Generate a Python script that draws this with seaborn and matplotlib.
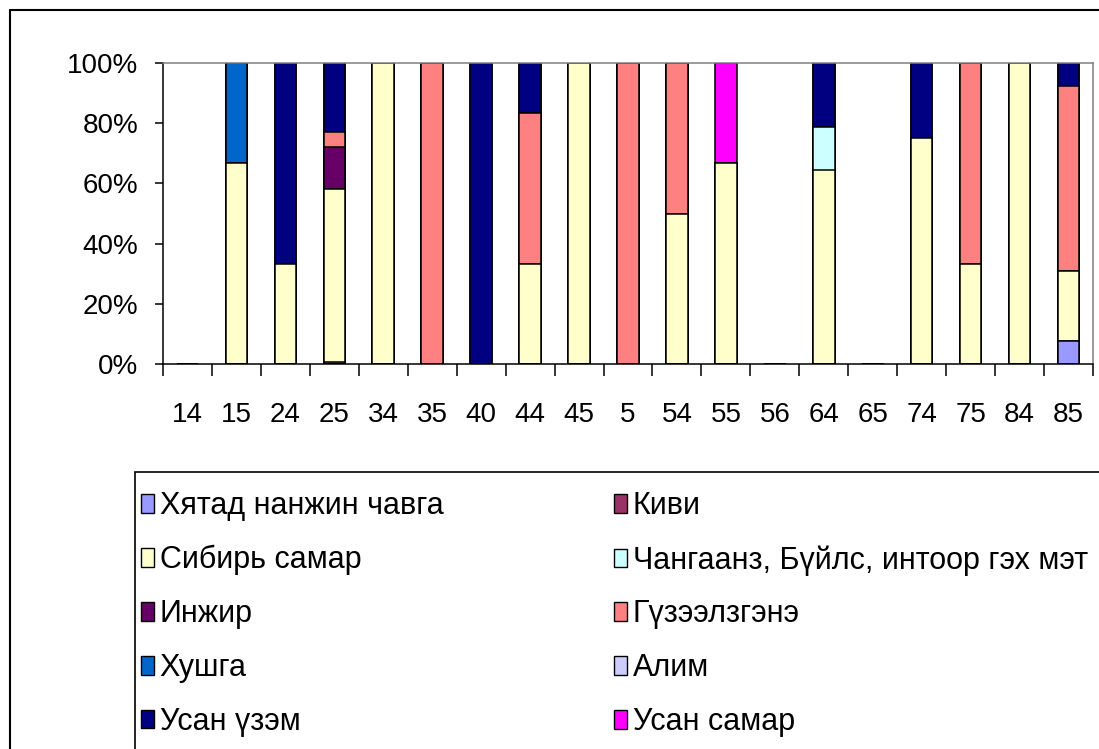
import matplotlib
matplotlib.use("Agg")
import matplotlib.pyplot as plt
from matplotlib.patches import Patch, Rectangle
from matplotlib.lines import Line2D
import seaborn as sns
import pandas as pd
import numpy as np

# Категориуд (x тэнхлэг)
categories = ['14', '15', '24', '25', '34', '35', '40', '44', '45', '5',
              '54', '55', '56', '64', '65', '74', '75', '84', '85']

# Цуврал бүрийн хувь (%)
khyatad = [0, 0, 0, 0, 0, 0, 0, 0, 0, 0, 0, 0, 0, 0, 0, 0, 0, 0, 7.7]
kivi = [0, 0, 0, 0.7, 0, 0, 0, 0, 0, 0, 0, 0, 0, 0, 0, 0, 0, 0, 0]
sibir = [0, 66.7, 33.3, 57.5, 100, 0, 0, 33.3, 100, 0, 50, 66.7, 0, 64.3, 0, 75, 33.3, 100, 23.1]
changaanz = [0, 0, 0, 0, 0, 0, 0, 0, 0, 0, 0, 0, 0, 14.3, 0, 0, 0, 0, 0]
inzhir = [0, 0, 0, 13.9, 0, 0, 0, 0, 0, 0, 0, 0, 0, 0, 0, 0, 0, 0, 0]
guzeel = [0, 0, 0, 4.9, 0, 100, 0, 50, 0, 100, 50, 0, 0, 0, 0, 0, 66.7, 0, 61.5]
khushga = [0, 33.3, 0, 0, 0, 0, 0, 0, 0, 0, 0, 0, 0, 0, 0, 0, 0, 0, 0]
alim = [0] * 19
usan_uzem = [0, 0, 66.7, 23.0, 0, 0, 100, 16.7, 0, 0, 0, 0, 0, 21.4, 0, 25, 0, 0, 7.7]
usan_samar = [0, 0, 0, 0, 0, 0, 0, 0, 0, 0, 0, 33.3, 0, 0, 0, 0, 0, 0, 0]

series_names = ['Хятад нанжин чавга', 'Киви', 'Сибирь самар',
                'Чангаанз, Бүйлс, интоор гэх мэт', 'Инжир', 'Гүзээлзгэнэ',
                'Хушга', 'Алим', 'Усан үзэм', 'Усан самар']
series_values = [khyatad, kivi, sibir, changaanz, inzhir, guzeel,
                 khushga, alim, usan_uzem, usan_samar]
colors = ['#9999FF', '#993366', '#FFFFCC', '#CCFFFF', '#660066',
          '#FF8080', '#0066CC', '#CCCCFF', '#000080', '#FF00FF']

df = pd.DataFrame(dict(zip(series_names, series_values)), index=categories)
# 100% болгох
totals = df.sum(axis=1).replace(0, 1)
df = df.div(totals, axis=0) * 100
cum = df.cumsum(axis=1)

sns.set_style('white')
plt.rcParams['font.family'] = ['Liberation Sans', 'DejaVu Sans']
plt.rcParams['text.color'] = 'black'
plt.rcParams['xtick.color'] = 'black'
plt.rcParams['ytick.color'] = 'black'

fig = plt.figure(figsize=(10.99, 7.49), dpi=100)
ax = fig.add_axes([163 / 1099, 1 - 364 / 749, (1093 - 163) / 1099, (364 - 63) / 749])

# Давхарласан багана: дээд цувралаас эхлэн хуримтлагдсан өндрөөр зурна
for name, color in reversed(list(zip(series_names, colors))):
    sns.barplot(x=categories, y=cum[name].values, order=categories, color=color,
                edgecolor='black', linewidth=1.1, width=0.44, saturation=1,
                ax=ax, errorbar=None)

ax.set_xlim(-0.5, len(categories) - 0.5)
ax.set_ylim(0, 100)
ax.set_yticks(range(0, 101, 20))
ax.set_yticklabels([f'{v}%' for v in range(0, 101, 20)])
ax.set_xlabel('')
ax.set_ylabel('')

ax.set_xticks(np.arange(-0.5, len(categories), 1), minor=True)
ax.tick_params(axis='x', which='major', length=0, pad=27, labelsize=20, labelcolor='black')
ax.tick_params(axis='x', which='minor', length=8.5, width=1.1, direction='out', color='black', bottom=True)
ax.tick_params(axis='y', which='major', length=6, width=1.1, direction='out', pad=12,
               labelsize=20, left=True, labelcolor='black', color='black')

for side in ['left', 'bottom']:
    ax.spines[side].set_color('black')
    ax.spines[side].set_linewidth(1.1)
for side in ['top', 'right']:
    ax.spines[side].set_color('#808080')
    ax.spines[side].set_linewidth(1.1)

# Legend: мөрөөр дүүргэхийн тулд дарааллыг сольно
handles = [Patch(facecolor=c, edgecolor='black', linewidth=1.0) for c in colors]
order = [0, 2, 4, 6, 8, 1, 3, 5, 7, 9]
fig.legend([handles[i] for i in order], [series_names[i] for i in order],
           ncol=2, loc='upper left',
           bbox_to_anchor=(126 / 1099, 1 - 476 / 749), frameon=False,
           fontsize=22, borderpad=0, handlelength=0.4, handleheight=0.55,
           handletextpad=0.2, labelspacing=0.78, columnspacing=5.6)

# Хүрээнүүд
fig.patches.append(Rectangle((135 / 1099, -0.02), 1.0, (749 - 472) / 749 + 0.02,
                             transform=fig.transFigure, fill=False,
                             edgecolor='black', linewidth=1.2))
fig.lines.append(Line2D([10 / 1099, 1.01], [1 - 10 / 749, 1 - 10 / 749],
                        transform=fig.transFigure, color='black', linewidth=1.5))
fig.lines.append(Line2D([10 / 1099, 10 / 1099], [-0.01, 1 - 10 / 749],
                        transform=fig.transFigure, color='black', linewidth=1.5))

fig.savefig('out.png', dpi=100)
